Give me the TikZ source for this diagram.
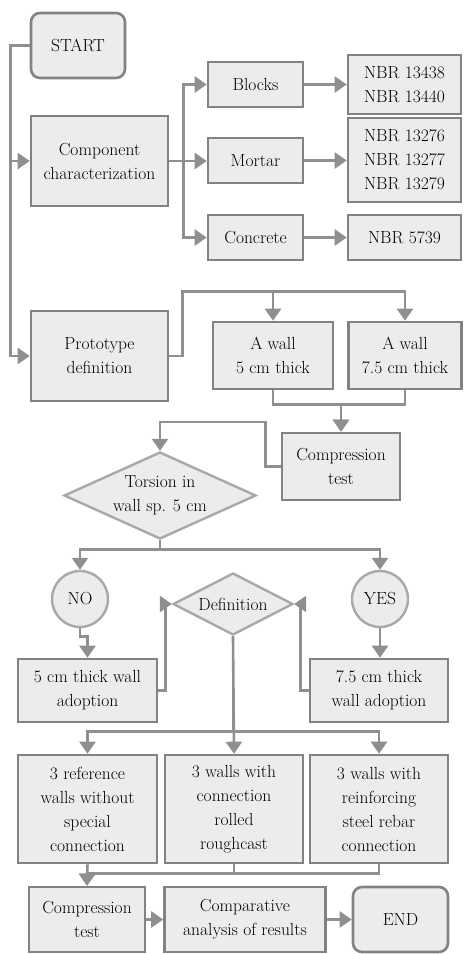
\documentclass[tikz,border=0pt]{standalone}
\usetikzlibrary{shapes.geometric,arrows.meta}
\definecolor{boxline}{HTML}{828282}
\definecolor{boxfill}{HTML}{ECECEC}
\definecolor{flowline}{HTML}{8F8F8F}
\definecolor{softline}{HTML}{A8A8A8}

\begin{document}
\begin{tikzpicture}[x=1pt,y=-1pt,
    txt/.style={align=center,inner sep=0pt,font=\fontsize{17.5}{24}\selectfont},
    box/.style={txt,draw=boxline,line width=2.6pt,fill=boxfill},
    term/.style={box,rounded corners=9pt},
    ask/.style={txt,diamond,draw=softline,line width=2.4pt,fill=boxfill},
    yesno/.style={txt,circle,draw=softline,line width=2.4pt,fill=boxfill,minimum size=56pt},
    arr/.style={flowline,line width=2.6pt,-{Triangle[length=12pt,width=16pt]}},
    lin/.style={flowline,line width=2.6pt}]
      \useasboundingbox (0,0) rectangle (464,954);

      % BOXES
      \node[term,minimum width=94pt,minimum height=65pt] (start) at (78,45.5) {START};
      \node[box,minimum width=137pt,minimum height=90pt] (comp) at (99.5,161) {Component\\characterization};
      \node[box,minimum width=95pt,minimum height=45pt] (blocks) at (255.5,84.5) {Blocks};
      \node[box,minimum width=95pt,minimum height=45pt] (mortar) at (255.5,160.5) {Mortar};
      \node[box,minimum width=95pt,minimum height=45pt] (concrete) at (255.5,237.5) {Concrete};
      \node[box,minimum width=113pt,minimum height=59pt] (nbrA) at (404.5,84.5) {NBR 13438\\NBR 13440};
      \node[box,minimum width=113pt,minimum height=84pt] (nbrB) at (404.5,160) {NBR 13276\\NBR 13277\\NBR 13279};
      \node[box,minimum width=113pt,minimum height=45pt] (nbrC) at (404.5,237.5) {NBR 5739};

      \node[box,minimum width=137pt,minimum height=90pt] (proto) at (99.5,356) {Prototype\\definition};
      \node[box,minimum width=120pt,minimum height=67pt] (wallA) at (273,355.5) {A wall\\5 cm thick};
      \node[box,minimum width=113pt,minimum height=67pt] (wallB) at (405,355.5) {A wall\\7.5 cm thick};
      \node[box,minimum width=118pt,minimum height=67pt] (testA) at (341,466.5) {Compression\\test};

      \node[ask,aspect=2.2,minimum width=192pt,minimum height=87pt] (torsion) at (160,495.5) {Torsion in\\wall sp. 5 cm};
      \node[yesno] (no) at (80,599) {NO};
      \node[yesno] (yes) at (380,599) {YES};
      \node[ask,aspect=2,minimum width=120pt,minimum height=62pt] (defn) at (233,604) {Definition};

      \node[box,minimum width=139pt,minimum height=63pt] (adoptA) at (87.5,690.5) {5 cm thick wall\\adoption};
      \node[box,minimum width=138pt,minimum height=63pt] (adoptB) at (379,690.5) {7.5 cm thick\\wall adoption};

      \node[box,minimum width=139pt,minimum height=108pt] (refA) at (87.5,809) {3 reference\\walls without\\special\\connection};
      \node[box,minimum width=138pt,minimum height=108pt] (refB) at (234,809) {3 walls with\\connection\\rolled\\roughcast};
      \node[box,minimum width=138pt,minimum height=108pt] (refC) at (379,809) {3 walls with\\reinforcing\\steel rebar\\connection};

      \node[box,minimum width=116pt,minimum height=65pt] (testB) at (87,919.5) {Compression\\test};
      \node[box,minimum width=161pt,minimum height=65pt] (results) at (245,919.5) {Comparative\\analysis of results};
      \node[term,minimum width=95pt,minimum height=65pt] (fin) at (400.5,919.5) {END};

      % ARROWS
      \draw[arr] (start.west) -- ++(-19,0) |- (comp.west);
      \draw[arr] (start.west) -- ++(-19,0) |- (proto.west);

      \draw[arr] (comp.east) -- ++(14,0) |- (blocks.west);
      \draw[arr] (comp.east) -- (mortar.west |- comp.east);
      \draw[arr] (comp.east) -- ++(14,0) |- (concrete.west);
      \draw[arr] (blocks) -- (nbrA);
      \draw[arr] (mortar) -- (nbrB.west |- mortar);
      \draw[arr] (concrete) -- (nbrC);

      \draw[arr] (proto.east) -- ++(13,0) |- ([yshift=29pt]wallA.north) -- (wallA.north);
      \draw[arr] (proto.east) -- ++(13,0) |- ([yshift=29pt]wallB.north) -- (wallB.north);
      \draw[arr] (wallA.south) -- ++(0,14) -| (testA.north);
      \draw[arr] (wallB.south) -- ++(0,14) -| (testA.north);
      \draw[arr] (testA.west) -- ++(-15,0) |- ([yshift=29pt]torsion.north) -- (torsion.north);

      \draw[arr] (torsion.south) -- ++(0,9) -| (no.north);
      \draw[arr] (torsion.south) -- ++(0,9) -| (yes.north);
      \draw[arr] (no.south) -- ++(0,8) -| (adoptA.north);
      \draw[arr] (yes.south) -- (yes.south |- adoptB.north);

      \draw[arr] (adoptA.east) -- ++(7,0) |- (defn.west);
      \draw[arr] (adoptB.west) -- ++(-8,0) |- (defn.east);

      \draw[arr] (defn.south) -- ++(0,95) -| (refA.north);
      \draw[arr] (defn.south) -- (refB.north);
      \draw[arr] (defn.south) -- ++(0,95) -| (refC.north);

      \draw[lin] (refB.south) -- ++(0,9);
      \draw[arr] (refC.south) -- ++(0,9) -| (testB.north);
      \draw[arr] (refA.south) -- (testB.north);

      % LAST ROW
      \draw[arr] (testB) -- (results);
      \draw[arr] (results) -- (fin);
\end{tikzpicture}
\end{document}
